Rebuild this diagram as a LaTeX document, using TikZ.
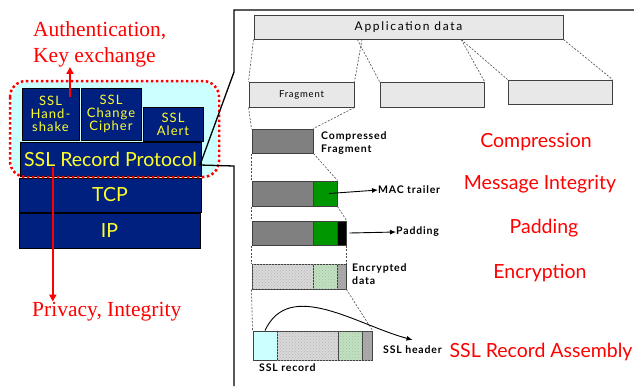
\documentclass[tikz,border=0pt]{standalone}
\usepackage{fontspec}
\setmainfont{Liberation Serif}
\newfontfamily\lato{Lato}
\newfontfamily\latospaced[LetterSpace=8]{Lato}
\newfontfamily\latowide[LetterSpace=14]{Lato}
\usepackage{tikz}
\usetikzlibrary{arrows.meta,calc,patterns}
\definecolor{sslblue}{RGB}{0,32,128}
\definecolor{sslyellow}{RGB}{255,255,40}
\definecolor{sslcyan}{RGB}{204,255,255}
\definecolor{macgreen}{RGB}{0,150,0}
\definecolor{encgreen}{RGB}{190,228,190}

\begin{document}
\begin{tikzpicture}[
    x=1pt, y=-1pt,
    layer/.style={rectangle, draw=black, fill=sslblue, text=sslyellow, inner sep=0pt, align=center, font=\latospaced\fontsize{13}{13}\selectfont},
    biglayer/.style={layer, minimum height=34pt, font=\lato\fontsize{19.5}{20}\selectfont},
    piece/.style={rectangle, draw=black!75, line width=1pt, inner sep=0pt, minimum height=25pt},
    dots/.style={postaction={pattern=crosshatch dots, pattern color=black!30}},
    tag/.style={font=\latospaced\bfseries\fontsize{10.5}{13}\selectfont, align=left, inner sep=0pt},
    stage/.style={text=red, font=\lato\fontsize{19.5}{22}\selectfont, inner sep=0pt},
    split/.style={dash pattern=on 2pt off 1.5pt, line width=0.6pt, black!70},
    arrow/.style={-{Latex[length=6pt,width=5pt]}, line width=0.9pt},
    redarrow/.style={-{Triangle[length=7pt,width=7pt]}, red, line width=2pt}
]
\useasboundingbox (0,0) rectangle (634,386);

% Protocol stack
\fill[sslcyan, rounded corners=16pt] (12,82) rectangle (217,177);
\node[layer, minimum width=57pt, minimum height=52pt] (hs) at (50.5,114) {SSL\\Hand-\\shake};
\node[layer, minimum width=60pt, minimum height=52pt] (cc) at (111,114) {SSL\\Change\\Cipher};
\node[layer, minimum width=60pt, minimum height=34pt] (al) at (173,124) {SSL\\Alert};
\node[biglayer, minimum width=181pt] (rec) at (110.5,159) {SSL Record Protocol};
\node[biglayer, minimum width=182pt] (tcp) at (110,195) {TCP};
\node[biglayer, minimum width=181pt, minimum height=35pt] (ip) at (109.5,230.5) {IP};
\draw[red, line width=2.5pt, dash pattern=on 2.5pt off 2.5pt, rounded corners=16pt] (10,81) rectangle (219,177);

% Security services of the stack
\node[text=red, font=\fontsize{21.5}{26}\selectfont, align=left, inner sep=0pt, anchor=west] (auth) at (33,44) {Authentication,\\Key exchange};
\node[text=red, font=\fontsize{21.5}{24}\selectfont, inner sep=0pt, anchor=base west] (privacy) at (32,316) {Privacy, Integrity};
\draw[redarrow] ([xshift=19.5pt,yshift=-9pt]hs.north) -- ([xshift=19.5pt]hs.north |- auth.south);
\coordinate (priv start) at ([xshift=33pt,yshift=-8pt]rec.west);
\draw[redarrow] (priv start) -- (priv start |- privacy.north);

% Callout frame
\coordinate (callout) at (200,165);
\draw[line width=1.3pt] (634,10) -- (234,10) -- (234,72) -- (callout) -- (234,166) -- (234,386);

% Application data and fragments
\node[piece, fill=black!9, minimum width=309pt, minimum height=24pt, font=\latowide\fontsize{12}{12}\selectfont] (appdata) at (408.5,27) {Application data};
\node[piece, fill=black!9, minimum width=105pt, font=\latospaced\fontsize{9.5}{11}\selectfont] (frag1) at (301.5,94.5) {Fragment};
\node[piece, fill=black!9, minimum width=104pt] (frag2) at (432,94.5) {};
\node[piece, fill=black!9, minimum width=104pt, minimum height=24pt] (frag3) at (560,92) {};
\draw[split] (appdata.south west) -- (frag1.north west);
\draw[split] ($(appdata.south west)!0.35!(appdata.south east)$) -- (frag1.north east);
\draw[split] ($(appdata.south west)!0.335!(appdata.south east)$) -- (frag2.north west);
\draw[split] ($(appdata.south west)!0.67!(appdata.south east)$) -- (frag2.north east);
\draw[split] ($(appdata.south west)!0.67!(appdata.south east)$) -- (frag3.north west);
\draw[split] (appdata.south east) -- (frag3.north east);

% Compression
\node[piece, fill=black!50, minimum width=61pt, minimum height=24pt] (comp) at (282.5,141) {};
\node[tag, anchor=west] (comptxt) at (321,143) {Compressed\\Fragment};
\draw[split] (frag1.south west) -- (comp.north west);
\draw[split] (frag1.south east) -- (comp.north east);

% MAC
\node[piece, fill=black!50, minimum width=61pt] (macdata) at (282.5,193.5) {};
\node[piece, fill=macgreen, minimum width=24pt] (mac) at (325,193.5) {};
\node[tag, anchor=west] (mactxt) at (378,190) {MAC trailer};
\draw[split] (comp.south west) -- (macdata.north west);
\draw[split] (comp.south east) -- (mac.north east);
\draw[arrow] ([xshift=4pt]mac.center) -- (mactxt.west);

% Padding
\node[piece, fill=black!50, minimum width=61pt, minimum height=24pt] (paddata) at (282.5,233) {};
\node[piece, fill=macgreen, minimum width=24pt, minimum height=24pt] (padmac) at (325,233) {};
\node[piece, fill=black, minimum width=9pt, minimum height=24pt] (pad) at (341.5,233) {};
\node[tag, anchor=west] (padtxt) at (396,232) {Padding};
\draw[split] (macdata.south west) -- (paddata.north west);
\draw[split] (mac.south east) -- (pad.north east);
\draw[arrow] ([xshift=3pt]pad.east) -- (padtxt.west);

% Encryption
\node[piece, fill=black!15, dots, minimum width=61pt] (encdata) at (282.5,276.5) {};
\node[piece, fill=encgreen, dots, minimum width=24pt] (encmac) at (325,276.5) {};
\node[piece, fill=black!35, dots, minimum width=9pt] (encpad) at (341.5,276.5) {};
\node[tag, anchor=west] (enctxt) at (352,274) {Encrypted\\data};
\draw[split] (paddata.south west) -- (encdata.north west);
\draw[split] (pad.south east) -- (encpad.north east);

% SSL record
\node[piece, fill=sslcyan, minimum width=24pt, minimum height=29pt] (hdr) at (265,345.5) {};
\node[piece, fill=black!15, dots, minimum width=61pt, minimum height=29pt] (recdata) at (307.5,345.5) {};
\node[piece, fill=encgreen, dots, minimum width=24pt, minimum height=29pt] (recmac) at (350,345.5) {};
\node[piece, fill=black!35, dots, minimum width=10pt, minimum height=29pt] (recpad) at (367,345.5) {};
\node[tag, anchor=north west] (rectxt) at (259,363) {SSL record};
\node[tag, anchor=west] (hdrtxt) at (383,350) {SSL header};
\draw[split] (encdata.south west) -- (hdr.north west);
\draw[split] (encpad.south east) -- (recpad.north east);
\draw[arrow] (hdr.north) to[out=65, in=165] ([yshift=6pt]hdrtxt.north);

% Processing steps
\node[stage, anchor=base] (s1) at (536,147) {Compression};
\node[stage, anchor=base] (s2) at (540,189) {Message Integrity};
\node[stage, anchor=base] (s3) at (544,233) {Padding};
\node[stage, anchor=base] (s4) at (540,278) {Encryption};
\node[stage, anchor=base] (s5) at (541,357) {SSL Record Assembly};

\end{tikzpicture}
\end{document}
